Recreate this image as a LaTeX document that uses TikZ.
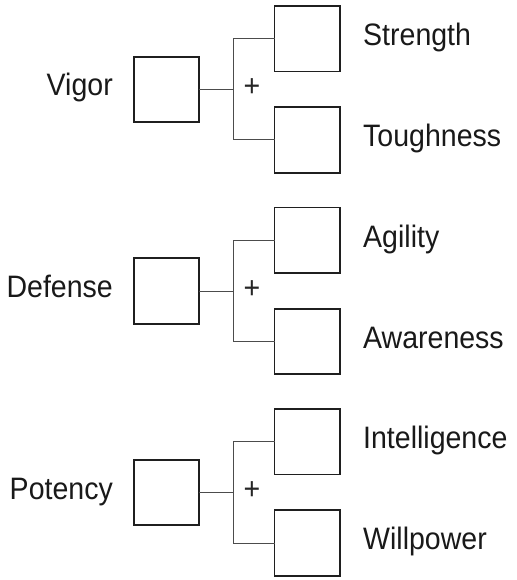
\documentclass[tikz,border=0pt]{standalone}
\usepackage{fontspec}
\setmainfont{Liberation Sans}[FakeStretch=0.92]
\begin{document}
\begin{tikzpicture}[x=1pt,y=-1pt,
  sq/.style={draw=black!88,line width=1.6pt,minimum width=65.5pt,minimum height=65.5pt,inner sep=0pt,outer sep=0pt},
  conn/.style={draw=black!70,line width=1pt},
  lbl/.style={font=\fontsize{31}{31}\selectfont,text=black!90,inner sep=0pt},
  plus/.style={font=\fontsize{31}{31}\selectfont,text=black!85,inner sep=0pt}]
\useasboundingbox (0,0) rectangle (516,580);
\foreach \T/\nm/\a/\b/\c in {5/v/Vigor/Strength/Toughness,206.5/d/Defense/Agility/Awareness,408/p/Potency/Intelligence/Willpower}{
  \node[sq] (\nm m) at (166.5,\T+84.5) {};
  \node[sq] (\nm u) at (307.3,\T+33.8) {};
  \node[sq] (\nm l) at (307.3,\T+135) {};
  \coordinate (\nm j) at (233.3,\T+84.5);
  \draw[conn] (\nm m.east) -- (\nm j);
  \draw[conn] (\nm u.west) -| (\nm j) |- (\nm l.west);
  \node[plus] (\nm plus) at (252,\T+83) {+};
  \node[lbl,anchor=base east] (\nm a) at (113,\T+91) {\a};
  \node[lbl,anchor=base west] (\nm b) at (363,\T+40.5) {\b};
  \node[lbl,anchor=base west] (\nm c) at (363,\T+141.5) {\c};
}
\end{tikzpicture}
\end{document}
